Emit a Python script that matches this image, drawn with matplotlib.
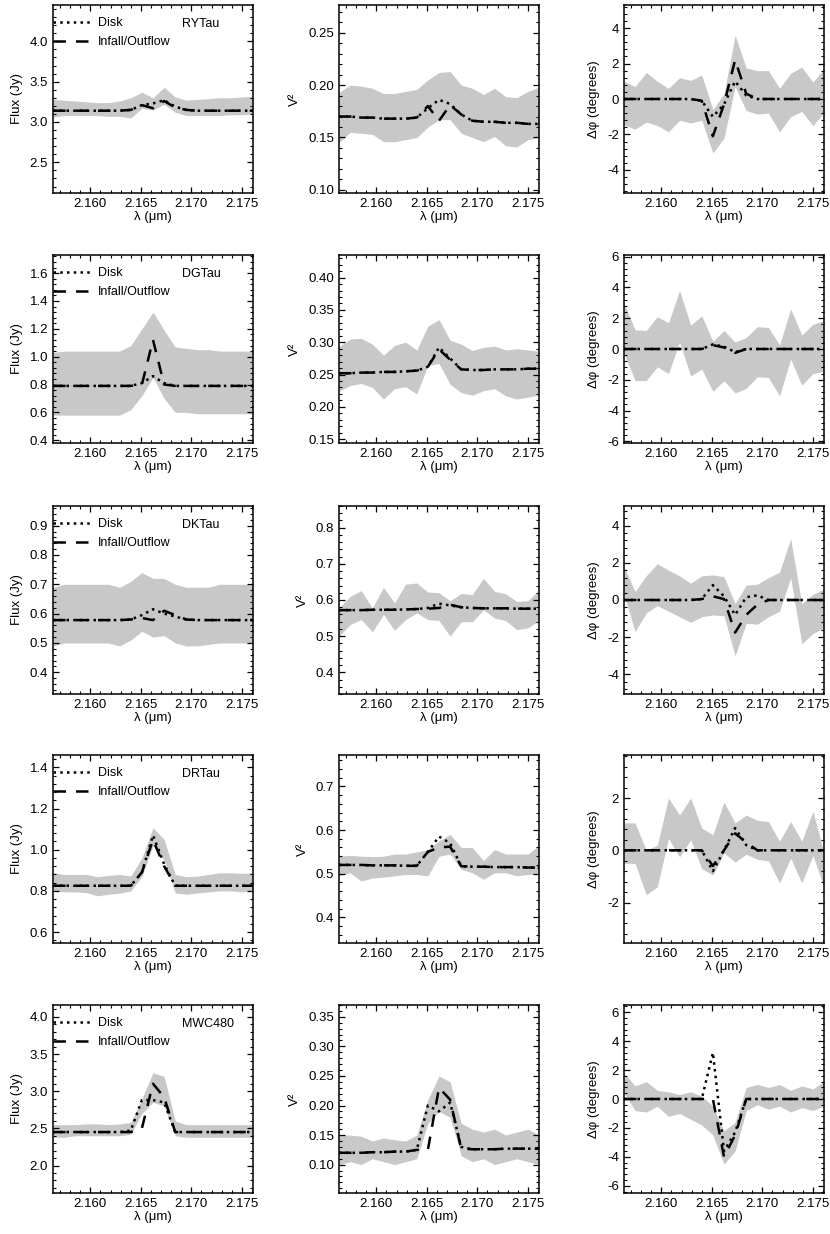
import matplotlib
matplotlib.use("Agg")
import matplotlib.pyplot as plt
from matplotlib.ticker import AutoMinorLocator, FormatStrFormatter

plt.rcParams["font.family"] = ["Liberation Sans", "DejaVu Sans"]

# wavelength grid (micron)
wavelength = [2.1563, 2.1574, 2.1585, 2.1596, 2.1607, 2.1618, 2.1629, 2.1640, 2.1651, 2.1662,
              2.1673, 2.1684, 2.1695, 2.1706, 2.1717, 2.1728, 2.1739, 2.1750, 2.1761]

stars = ["RYTau", "DGTau", "DKTau", "DRTau", "MWC480"]

# ---- RYTau ----
rytau_flux_hi = [3.28, 3.27, 3.26, 3.25, 3.24, 3.24, 3.26, 3.30, 3.37, 3.30, 3.43, 3.31, 3.27, 3.28, 3.29, 3.30, 3.30, 3.31, 3.32]
rytau_flux_lo = [3.06, 3.08, 3.08, 3.08, 3.08, 3.07, 3.07, 3.05, 3.17, 3.15, 3.22, 3.12, 3.08, 3.08, 3.08, 3.08, 3.09, 3.09, 3.10]
rytau_flux_disk = [3.14, 3.14, 3.14, 3.14, 3.14, 3.14, 3.14, 3.15, 3.21, 3.23, 3.27, 3.19, 3.15, 3.14, 3.14, 3.14, 3.14, 3.14, 3.14]
rytau_flux_inf = [3.14, 3.14, 3.14, 3.14, 3.14, 3.14, 3.14, 3.15, 3.21, 3.17, 3.26, 3.18, 3.15, 3.14, 3.14, 3.14, 3.14, 3.14, 3.14]
rytau_v2_hi = [0.193, 0.200, 0.199, 0.197, 0.192, 0.192, 0.194, 0.196, 0.205, 0.212, 0.213, 0.200, 0.197, 0.191, 0.197, 0.189, 0.188, 0.194, 0.198]
rytau_v2_lo = [0.145, 0.155, 0.154, 0.153, 0.146, 0.146, 0.148, 0.150, 0.160, 0.167, 0.167, 0.154, 0.150, 0.146, 0.151, 0.142, 0.141, 0.148, 0.150]
rytau_v2_disk = [0.170, 0.170, 0.169, 0.169, 0.168, 0.168, 0.168, 0.169, 0.178, 0.186, 0.182, 0.172, 0.166, 0.165, 0.165, 0.164, 0.164, 0.163, 0.163]
rytau_v2_inf = [0.170, 0.170, 0.169, 0.169, 0.168, 0.168, 0.168, 0.169, 0.180, 0.166, 0.181, 0.172, 0.166, 0.165, 0.165, 0.164, 0.164, 0.163, 0.163]
rytau_dp_hi = [1.0, 0.7, 1.5, 1.0, 0.6, 1.2, 1.05, 1.35, -0.6, 0.3, 3.6, 1.75, 1.6, 1.6, 0.6, 1.45, 1.8, 0.95, 1.7]
rytau_dp_lo = [-1.45, -1.7, -1.3, -1.5, -1.85, -1.2, -1.35, -1.2, -3.05, -2.2, 0.7, -0.65, -0.85, -0.8, -1.85, -1.0, -0.7, -1.5, -0.75]
rytau_dp_disk = [0, 0, 0, 0, 0, 0, 0, -0.1, -1.0, -0.3, 1.0, 0.2, 0, 0, 0, 0, 0, 0, 0]
rytau_dp_inf = [0, 0, 0, 0, 0, 0, 0, -0.1, -2.1, -0.3, 2.2, 0.3, 0, 0, 0, 0, 0, 0, 0]

# ---- DGTau ----
dgtau_flux_hi = [1.03, 1.04, 1.04, 1.04, 1.04, 1.04, 1.04, 1.08, 1.20, 1.32, 1.19, 1.07, 1.06, 1.05, 1.05, 1.04, 1.04, 1.04, 1.04]
dgtau_flux_lo = [0.58, 0.58, 0.58, 0.58, 0.58, 0.58, 0.58, 0.62, 0.72, 0.85, 0.70, 0.60, 0.60, 0.59, 0.59, 0.59, 0.59, 0.59, 0.59]
dgtau_flux_disk = [0.79, 0.79, 0.79, 0.79, 0.79, 0.79, 0.79, 0.79, 0.81, 0.86, 0.81, 0.79, 0.79, 0.79, 0.79, 0.79, 0.79, 0.79, 0.79]
dgtau_flux_inf = [0.79, 0.79, 0.79, 0.79, 0.79, 0.79, 0.79, 0.79, 0.80, 1.12, 0.80, 0.79, 0.79, 0.79, 0.79, 0.79, 0.79, 0.79, 0.79]
dgtau_v2_hi = [0.293, 0.305, 0.306, 0.297, 0.280, 0.295, 0.300, 0.288, 0.325, 0.335, 0.303, 0.297, 0.287, 0.292, 0.294, 0.288, 0.290, 0.288, 0.286]
dgtau_v2_lo = [0.224, 0.233, 0.236, 0.230, 0.212, 0.228, 0.231, 0.220, 0.264, 0.267, 0.235, 0.222, 0.218, 0.225, 0.228, 0.217, 0.212, 0.215, 0.218]
dgtau_v2_disk = [0.252, 0.252, 0.253, 0.253, 0.254, 0.254, 0.255, 0.256, 0.262, 0.292, 0.275, 0.258, 0.257, 0.257, 0.258, 0.258, 0.258, 0.259, 0.259]
dgtau_v2_inf = [0.252, 0.252, 0.253, 0.253, 0.254, 0.254, 0.255, 0.256, 0.262, 0.289, 0.273, 0.258, 0.257, 0.257, 0.258, 0.258, 0.258, 0.259, 0.259]
dgtau_dp_hi = [2.95, 1.25, 1.2, 2.1, 1.7, 3.8, 1.55, 2.15, 0.5, 1.2, 0.45, 0.75, 1.45, 1.4, 0.25, 2.6, 0.9, 1.6, 1.85]
dgtau_dp_lo = [-0.3, -2.05, -2.05, -1.15, -1.6, 0.45, -1.75, -1.3, -2.75, -2.05, -2.85, -2.55, -1.8, -1.85, -3.05, -0.65, -2.35, -1.6, -1.45]
dgtau_dp_disk = [0, 0, 0, 0, 0, 0, 0, 0, 0.3, 0.15, -0.2, 0, 0, 0, 0, 0, 0, 0, 0]
dgtau_dp_inf = [0, 0, 0, 0, 0, 0, 0, 0, 0.25, 0.1, -0.25, 0, 0, 0, 0, 0, 0, 0, 0]

# ---- DKTau ----
dktau_flux_hi = [0.69, 0.70, 0.70, 0.70, 0.70, 0.70, 0.69, 0.71, 0.74, 0.72, 0.72, 0.70, 0.69, 0.69, 0.69, 0.70, 0.70, 0.70, 0.70]
dktau_flux_lo = [0.49, 0.50, 0.50, 0.50, 0.50, 0.50, 0.49, 0.51, 0.54, 0.52, 0.525, 0.50, 0.49, 0.49, 0.495, 0.50, 0.50, 0.50, 0.50]
dktau_flux_disk = [0.578, 0.578, 0.578, 0.578, 0.578, 0.578, 0.578, 0.580, 0.595, 0.615, 0.600, 0.590, 0.580, 0.578, 0.578, 0.578, 0.578, 0.578, 0.578]
dktau_flux_inf = [0.578, 0.578, 0.578, 0.578, 0.578, 0.578, 0.578, 0.580, 0.585, 0.578, 0.610, 0.595, 0.580, 0.578, 0.578, 0.578, 0.578, 0.578, 0.578]
dktau_v2_hi = [0.578, 0.610, 0.626, 0.578, 0.635, 0.592, 0.644, 0.647, 0.622, 0.620, 0.598, 0.618, 0.615, 0.660, 0.624, 0.617, 0.596, 0.598, 0.628]
dktau_v2_lo = [0.500, 0.532, 0.546, 0.512, 0.560, 0.516, 0.546, 0.564, 0.546, 0.543, 0.500, 0.540, 0.540, 0.573, 0.550, 0.543, 0.518, 0.523, 0.543]
dktau_v2_disk = [0.572, 0.572, 0.572, 0.573, 0.573, 0.573, 0.574, 0.575, 0.578, 0.590, 0.585, 0.580, 0.578, 0.577, 0.577, 0.577, 0.576, 0.576, 0.576]
dktau_v2_inf = [0.572, 0.572, 0.572, 0.573, 0.573, 0.573, 0.574, 0.575, 0.576, 0.578, 0.587, 0.580, 0.578, 0.577, 0.577, 0.577, 0.576, 0.576, 0.576]
dktau_dp_hi = [1.8, 0.45, 1.3, 1.95, 1.6, 1.3, 0.9, 1.3, 1.35, 1.25, -0.2, 0.8, 0.85, 1.2, 1.5, 3.3, -0.2, 0.3, 0.6]
dktau_dp_lo = [0.3, -1.7, -0.7, -0.3, -0.6, -0.9, -1.2, -0.9, -0.8, -0.85, -3.0, -1.25, -1.3, -0.9, -0.6, 1.2, -2.35, -1.8, -1.5]
dktau_dp_disk = [0, 0, 0, 0, 0, 0, 0, 0.05, 0.8, 0.2, -0.8, 0.15, 0.25, 0, 0, 0, 0, 0, 0]
dktau_dp_inf = [0, 0, 0, 0, 0, 0, 0, 0.05, 0.2, 0.05, -1.75, -0.8, -0.25, 0, 0, 0, 0, 0, 0]

# ---- DRTau ----
drtau_flux_hi = [0.888, 0.88, 0.88, 0.88, 0.869, 0.875, 0.88, 0.872, 0.96, 1.107, 1.05, 0.88, 0.869, 0.872, 0.88, 0.888, 0.888, 0.885, 0.888]
drtau_flux_lo = [0.80, 0.795, 0.795, 0.792, 0.776, 0.784, 0.789, 0.80, 0.87, 1.02, 0.95, 0.79, 0.784, 0.79, 0.795, 0.80, 0.80, 0.795, 0.805]
drtau_flux_disk = [0.825, 0.825, 0.825, 0.825, 0.825, 0.825, 0.825, 0.825, 0.89, 1.07, 0.93, 0.825, 0.825, 0.825, 0.825, 0.825, 0.825, 0.825, 0.825]
drtau_flux_inf = [0.825, 0.825, 0.825, 0.825, 0.825, 0.825, 0.825, 0.825, 0.89, 1.048, 0.92, 0.825, 0.825, 0.825, 0.825, 0.825, 0.825, 0.825, 0.825]
drtau_v2_hi = [0.540, 0.542, 0.540, 0.539, 0.540, 0.545, 0.545, 0.550, 0.555, 0.575, 0.590, 0.560, 0.560, 0.530, 0.555, 0.545, 0.545, 0.545, 0.565]
drtau_v2_lo = [0.495, 0.502, 0.483, 0.490, 0.492, 0.495, 0.498, 0.498, 0.495, 0.540, 0.545, 0.510, 0.502, 0.487, 0.502, 0.502, 0.495, 0.498, 0.498]
drtau_v2_disk = [0.520, 0.520, 0.520, 0.519, 0.519, 0.519, 0.518, 0.518, 0.550, 0.585, 0.570, 0.517, 0.516, 0.516, 0.515, 0.515, 0.515, 0.514, 0.514]
drtau_v2_inf = [0.520, 0.520, 0.520, 0.519, 0.519, 0.519, 0.518, 0.518, 0.550, 0.560, 0.562, 0.517, 0.516, 0.516, 0.515, 0.515, 0.515, 0.514, 0.514]
drtau_dp_hi = [1.05, 1.05, 0.0, 0.2, 2.0, 1.35, 2.0, 0.85, 0.6, 1.85, 1.05, 1.35, 1.15, 1.1, 0.35, 1.1, 0.35, 1.5, -0.1]
drtau_dp_lo = [-0.5, -0.5, -1.7, -1.4, 0.45, -0.25, 0.4, -0.7, -0.95, -0.1, -0.45, -0.15, -0.35, -0.4, -1.25, -0.3, -1.25, -0.2, -1.4]
drtau_dp_disk = [0, 0, 0, 0, 0, 0, 0, 0, -0.8, 0.0, 0.85, 0.2, 0, 0, 0, 0, 0, 0, 0]
drtau_dp_inf = [0, 0, 0, 0, 0, 0, 0, 0, -0.6, 0.0, 0.65, 0.3, 0, 0, 0, 0, 0, 0, 0]

# ---- MWC480 ----
mwc480_flux_hi = [2.55, 2.55, 2.55, 2.56, 2.56, 2.55, 2.56, 2.58, 2.90, 3.25, 3.20, 2.60, 2.55, 2.55, 2.55, 2.55, 2.55, 2.55, 2.55]
mwc480_flux_lo = [2.38, 2.38, 2.40, 2.40, 2.40, 2.40, 2.40, 2.42, 2.70, 2.85, 2.80, 2.40, 2.38, 2.38, 2.38, 2.38, 2.38, 2.38, 2.38]
mwc480_flux_disk = [2.45, 2.45, 2.45, 2.45, 2.45, 2.45, 2.45, 2.47, 2.88, 2.88, 2.85, 2.45, 2.45, 2.45, 2.45, 2.45, 2.45, 2.45, 2.45]
mwc480_flux_inf = [2.45, 2.45, 2.45, 2.45, 2.45, 2.45, 2.45, 2.45, 2.50, 3.10, 2.92, 2.45, 2.45, 2.45, 2.45, 2.45, 2.45, 2.45, 2.45]
mwc480_v2_hi = [0.150, 0.150, 0.148, 0.140, 0.145, 0.142, 0.140, 0.150, 0.210, 0.250, 0.240, 0.170, 0.160, 0.155, 0.160, 0.150, 0.155, 0.160, 0.150]
mwc480_v2_lo = [0.100, 0.105, 0.100, 0.110, 0.105, 0.100, 0.105, 0.110, 0.170, 0.190, 0.180, 0.115, 0.105, 0.110, 0.100, 0.105, 0.110, 0.105, 0.100]
mwc480_v2_disk = [0.120, 0.120, 0.120, 0.121, 0.121, 0.122, 0.122, 0.125, 0.200, 0.190, 0.205, 0.130, 0.126, 0.126, 0.126, 0.127, 0.127, 0.127, 0.127]
mwc480_v2_inf = [0.120, 0.120, 0.120, 0.121, 0.121, 0.122, 0.122, 0.125, 0.125, 0.230, 0.210, 0.127, 0.126, 0.126, 0.126, 0.127, 0.127, 0.127, 0.127]
mwc480_dp_hi = [1.8, 0.9, 1.2, 0.6, 0.5, 0.3, 0.5, 0.2, -0.5, -2.2, -1.6, 0.8, 1.0, 0.8, 1.0, 0.6, 0.9, 0.7, 1.2]
mwc480_dp_lo = [0.4, -0.8, -0.9, -0.5, -1.2, -1.0, -1.4, -1.8, -2.5, -4.5, -3.6, -0.8, -0.4, -0.7, -0.5, -0.9, -0.6, -0.8, -0.5]
mwc480_dp_disk = [0, 0, 0, 0, 0, 0, 0, 0, 3.2, -3.6, -2.3, 0, 0, 0, 0, 0, 0, 0, 0]
mwc480_dp_inf = [0, 0, 0, 0, 0, 0, 0, 0, 0, -4.0, -2.5, 0, 0, 0, 0, 0, 0, 0, 0]

# axis ranges and ticks per row
flux_ylim = [(2.12, 4.45), (0.38, 1.73), (0.326, 0.967), (0.547, 1.46), (1.63, 4.16)]
flux_ticks = [[2.5, 3.0, 3.5, 4.0], [0.4, 0.6, 0.8, 1.0, 1.2, 1.4, 1.6],
              [0.4, 0.5, 0.6, 0.7, 0.8, 0.9], [0.6, 0.8, 1.0, 1.2, 1.4], [2.0, 2.5, 3.0, 3.5, 4.0]]
v2_ylim = [(0.097, 0.2765), (0.144, 0.435), (0.34, 0.86), (0.341, 0.772), (0.052, 0.37)]
v2_ticks = [[0.10, 0.15, 0.20, 0.25], [0.15, 0.20, 0.25, 0.30, 0.35, 0.40],
            [0.4, 0.5, 0.6, 0.7, 0.8], [0.4, 0.5, 0.6, 0.7], [0.10, 0.15, 0.20, 0.25, 0.30, 0.35]]
v2_fmt = ["%.2f", "%.2f", "%.1f", "%.1f", "%.2f"]
dp_ylim = [(-5.3, 5.3), (-6.1, 6.1), (-5.05, 5.05), (-3.55, 3.65), (-6.5, 6.5)]
dp_ticks = [[-4, -2, 0, 2, 4], [-6, -4, -2, 0, 2, 4, 6], [-4, -2, 0, 2, 4],
            [-2, 0, 2], [-6, -4, -2, 0, 2, 4, 6]]

flux_data = [
    (rytau_flux_lo, rytau_flux_hi, rytau_flux_disk, rytau_flux_inf),
    (dgtau_flux_lo, dgtau_flux_hi, dgtau_flux_disk, dgtau_flux_inf),
    (dktau_flux_lo, dktau_flux_hi, dktau_flux_disk, dktau_flux_inf),
    (drtau_flux_lo, drtau_flux_hi, drtau_flux_disk, drtau_flux_inf),
    (mwc480_flux_lo, mwc480_flux_hi, mwc480_flux_disk, mwc480_flux_inf),
]
v2_data = [
    (rytau_v2_lo, rytau_v2_hi, rytau_v2_disk, rytau_v2_inf),
    (dgtau_v2_lo, dgtau_v2_hi, dgtau_v2_disk, dgtau_v2_inf),
    (dktau_v2_lo, dktau_v2_hi, dktau_v2_disk, dktau_v2_inf),
    (drtau_v2_lo, drtau_v2_hi, drtau_v2_disk, drtau_v2_inf),
    (mwc480_v2_lo, mwc480_v2_hi, mwc480_v2_disk, mwc480_v2_inf),
]
dp_data = [
    (rytau_dp_lo, rytau_dp_hi, rytau_dp_disk, rytau_dp_inf),
    (dgtau_dp_lo, dgtau_dp_hi, dgtau_dp_disk, dgtau_dp_inf),
    (dktau_dp_lo, dktau_dp_hi, dktau_dp_disk, dktau_dp_inf),
    (drtau_dp_lo, drtau_dp_hi, drtau_dp_disk, drtau_dp_inf),
    (mwc480_dp_lo, mwc480_dp_hi, mwc480_dp_disk, mwc480_dp_inf),
]

W, H = 830, 1234
col_left = [53, 339, 624]
row_top = [5, 255, 506, 755, 1005]
ax_w, ax_h = 200, 188
gray = "#c8c8c8"


def style_axis(ax, ylim, yticks, yfmt, ylabel):
    ax.set_xlim(wavelength[0], wavelength[-1])
    ax.set_ylim(*ylim)
    ax.set_xticks([2.160, 2.165, 2.170, 2.175])
    ax.xaxis.set_major_formatter(FormatStrFormatter("%.3f"))
    ax.set_yticks(yticks)
    ax.yaxis.set_major_formatter(FormatStrFormatter(yfmt))
    ax.xaxis.set_minor_locator(AutoMinorLocator(5))
    ax.yaxis.set_minor_locator(AutoMinorLocator(5))
    ax.tick_params(which="both", direction="in", top=True, right=True, labelsize=9.5)
    ax.tick_params(which="major", length=4.5, width=0.9)
    ax.tick_params(which="minor", length=2.2, width=0.8)
    for sp in ax.spines.values():
        sp.set_linewidth(1.1)
    ax.set_xlabel("λ (μm)", fontsize=9.5, labelpad=1)
    ax.set_ylabel(ylabel, fontsize=9.5, labelpad=5)


fig = plt.figure(figsize=(W / 100, H / 100), dpi=100)

for r, star in enumerate(stars):
    bottom = 1 - (row_top[r] + ax_h) / H
    panels = [
        (flux_data[r], flux_ylim[r], flux_ticks[r], "%.1f", "Flux (Jy)"),
        (v2_data[r], v2_ylim[r], v2_ticks[r], v2_fmt[r], "V²"),
        (dp_data[r], dp_ylim[r], dp_ticks[r], "%d", "Δφ (degrees)"),
    ]
    for c, (data, ylim, yticks, yfmt, ylabel) in enumerate(panels):
        ax = fig.add_axes([col_left[c] / W, bottom, ax_w / W, ax_h / H])
        lo, hi, disk, inf = data
        ax.fill_between(wavelength, lo, hi, color=gray, linewidth=0, zorder=1)
        ax.plot(wavelength, disk, color="black", lw=1.8, linestyle=(0, (1, 1.7)),
                label="Disk", zorder=3)
        ax.plot(wavelength, inf, color="black", lw=1.8, linestyle=(0, (5, 4)),
                label="Infall/Outflow", zorder=3)
        style_axis(ax, ylim, yticks, yfmt, ylabel)
        if c == 0:
            ax.legend(loc="upper left", bbox_to_anchor=(0.0, 0.935), frameon=False,
                      fontsize=9, handlelength=3.2, handletextpad=0.4,
                      borderaxespad=0, borderpad=0, labelspacing=0.55)
            ax.text(0.645, 0.9, star, transform=ax.transAxes, fontsize=9,
                    ha="left", va="center")

fig.savefig("out.png", dpi=100)
